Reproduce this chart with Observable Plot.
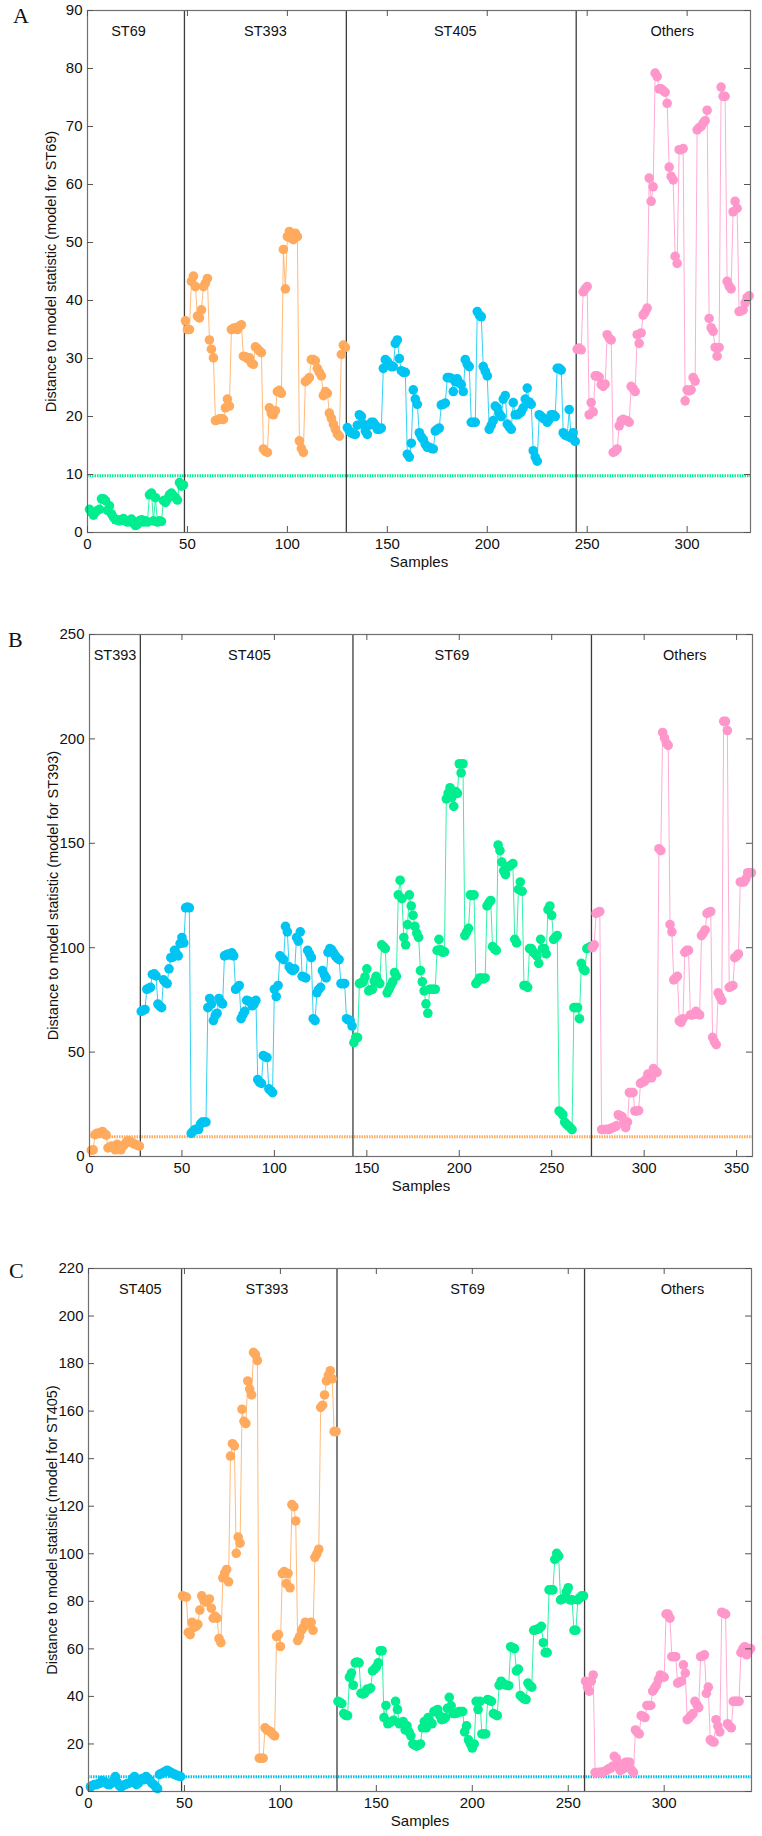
<!DOCTYPE html>
<html><head><meta charset="utf-8">
<script src="https://cdn.jsdelivr.net/npm/d3@7"></script>
<script src="https://cdn.jsdelivr.net/npm/@observablehq/plot@0.6"></script>
<style>
body{margin:0;background:#fff;font-family:"Liberation Sans",Arial,sans-serif;}
#wrap{position:relative;width:762px;height:1836px;overflow:hidden;}
.panel{position:absolute;left:0;}
.letter{position:absolute;font-family:"Liberation Serif","Times New Roman",serif;font-size:22px;line-height:22px;color:#111;}
</style></head><body><div id="wrap"></div>
<script>
// ---------- Panel A : model for ST69 ----------
const aGroups = ["ST69","ST393","ST405","Others"];
const aST69 = [4.0,3.5,3.0,3.5,3.8,4.0,5.8,5.8,5.5,3.8,
 4.6,3.2,2.6,2.2,2.2,2.0,2.2,2.4,2.0,1.8,
 2.0,2.3,1.6,1.2,1.4,2.0,2.2,1.8,2.0,1.8,
 6.5,6.8,2.0,6.0,1.8,2.0,1.9,5.5,5.2,5.8,
 6.5,6.8,6.3,6.0,5.6,8.6,8.0,8.2];
const aST393 = [36.5,35.0,35.0,43.3,44.2,42.4,37.3,37.0,38.4,42.4,
 43.0,43.8,33.2,31.6,30.1,19.3,19.4,19.6,19.6,19.5,
 21.5,23.0,21.8,35.0,35.2,35.3,35.0,35.6,35.8,30.4,
 30.3,30.0,30.1,29.2,29.0,32.0,31.7,31.3,31.0,14.4,
 14.0,13.8,21.5,20.5,20.3,21.0,24.3,24.5,24.0,48.8,
 42.0,51.0,51.9,50.7,50.5,51.6,51.0,15.8,14.5,13.8,
 26.0,26.3,26.7,29.8,29.8,29.6,28.3,27.6,27.0,23.6,
 24.3,24.0,20.6,19.7,18.7,17.8,17.0,16.6,30.7,32.3,
 31.9];
const aST405 = [18.1,17.5,17.2,17.0,16.9,18.5,20.3,20.0,18.7,17.5,
 16.9,18.5,19.0,19.0,18.5,17.8,17.8,18.0,28.3,29.8,
 29.5,29.0,28.6,28.6,32.6,33.2,30.0,27.9,27.6,27.6,
 13.5,13.0,15.4,24.6,23.0,22.1,17.2,16.5,16.0,15.2,
 14.7,14.7,14.5,14.4,17.5,17.8,18.0,22.0,22.1,22.3,
 26.7,26.7,26.6,24.3,26.0,26.5,25.8,25.5,24.3,29.8,
 29.0,28.6,19.0,19.0,19.0,38.1,37.5,37.2,28.6,27.8,
 27.0,17.8,18.5,19.3,21.8,21.5,20.5,20.0,23.0,23.6,
 18.7,18.2,17.8,22.4,20.3,20.3,20.5,20.8,21.5,23.0,
 24.9,22.5,22.1,14.1,13.0,12.3,20.3,20.0,19.7,19.5,
 19.0,19.5,20.3,20.3,20.0,28.3,28.3,28.0,17.2,16.8,
 16.6,21.2,16.3,17.2,15.7];
const aOthers = [31.6,31.8,31.5,41.5,42.0,42.4,20.3,22.4,20.8,27.0,
 27.0,26.8,25.5,25.2,25.6,34.1,33.5,33.2,13.8,14.0,
 14.4,18.4,19.3,19.5,19.3,19.3,19.0,25.2,24.8,24.3,
 34.1,32.6,34.4,37.5,38.0,38.7,61.1,57.1,59.6,79.2,
 78.6,76.5,76.5,76.2,75.9,74.0,63.0,61.4,60.8,47.6,
 46.4,66.0,66.0,66.2,22.7,24.6,24.4,24.6,26.7,26.1,
 69.4,69.8,70.0,70.6,71.0,72.8,36.9,35.3,34.7,31.9,
 30.4,31.9,76.8,75.2,75.2,43.3,42.5,42.0,55.3,57.1,
 55.9,38.1,38.2,38.4,39.6,40.5,40.8];
const aThreshold = 9.8;
const aXMax = 331.7, aYMax = 90;
const aXTicks = [0,50,100,150,200,250,300];
const aYTicks = [0,10,20,30,40,50,60,70,80,90];
const aLabelX = [20.5, 89, 184, 292.5];
const aTitle = "Distance to model statistic (model for ST69)";

// ---------- Panel B : model for ST393 ----------
const bGroups = ["ST393","ST405","ST69","Others"];
const bST393 = [3.0,3.2,10.5,11.1,11.0,11.5,12.0,11.0,10.3,4.1,
 4.5,5.0,4.0,3.2,5.8,4.5,3.2,5.0,5.8,7.0,
 7.6,7.0,6.7,6.0,5.8,5.3,5.0];
const bST405 = [69.5,70.0,70.4,80.1,80.5,81.0,87.2,87.5,86.5,73.0,
 72.0,71.3,84.6,83.5,82.8,89.9,95.2,95.5,98.7,97.0,
 96.1,102.0,104.9,102.3,119.1,119.5,119.1,11.1,12.0,12.9,
 13.0,12.9,15.5,16.5,16.5,16.5,71.3,75.7,73.0,65.1,
 67.5,68.6,75.7,74.0,73.1,96.1,96.5,97.0,96.5,97.5,
 96.1,80.1,81.0,81.9,66.0,68.0,69.5,74.8,74.5,74.0,
 72.2,73.0,74.8,36.8,35.5,35.0,48.3,47.8,47.4,32.4,
 31.5,30.6,80.1,76.6,81.9,96.1,95.0,94.3,110.2,107.6,
 90.8,89.5,89.0,89.9,104.9,103.1,107.6,86.3,85.9,85.5,
 98.7,97.0,95.2,66.0,65.1,78.4,80.0,81.0,89.0,87.0,
 85.5,97.8,99.6,99.0,97.5,96.1,95.0,94.3,82.8,82.8,
 82.8,66.0,65.5,65.1,62.5];
const bST69 = [54.5,57.1,57.0,82.8,83.2,83.7,86.0,89.9,79.3,79.8,
 80.1,84.0,86.3,84.0,82.8,101.4,100.5,99.6,78.4,80.1,
 82.0,83.7,88.1,86.3,125.3,132.3,123.5,104.9,101.4,111.1,
 125.3,120.0,115.5,110.2,107.0,104.9,89.0,83.7,79.3,73.1,
 68.6,80.1,80.1,80.1,80.1,98.7,104.0,99.0,97.8,98.0,
 171.3,174.0,176.6,172.0,167.7,174.8,173.9,188.1,183.7,188.1,
 105.8,107.5,109.3,125.3,125.0,125.3,82.8,84.0,85.5,85.5,
 85.0,85.5,120.0,121.5,122.6,100.5,99.5,98.7,149.2,146.5,
 141.0,136.8,135.0,138.5,139.0,139.5,140.3,104.0,102.3,127.9,
 131.5,127.0,81.9,81.9,81.0,99.6,99.6,98.0,97.0,96.1,
 92.5,104.0,99.6,99.6,97.0,118.2,120.0,115.5,104.0,105.0,
 105.8,21.8,21.0,20.0,16.5,15.5,14.7,13.8,12.9,71.3,
 71.3,71.3,66.0,92.5,89.9,89.0,99.6,100.0,100.5];
const bOthers = [100.0,101.4,116.4,117.0,117.3,12.9,12.9,12.9,13.0,12.9,
 13.5,13.8,14.2,14.7,20.0,19.5,19.1,16.5,13.8,16.5,
 30.6,30.6,30.6,21.8,21.8,22.0,35.0,35.5,35.9,37.0,
 39.5,38.5,37.7,42.1,41.0,40.3,147.4,146.5,203.1,200.5,
 198.0,196.9,111.1,107.6,84.6,85.5,86.3,65.0,64.2,66.0,
 97.8,98.7,98.7,67.8,67.8,68.0,69.5,68.5,67.8,105.8,
 107.0,108.5,116.4,117.0,117.3,57.1,55.0,53.6,78.4,76.5,
 74.8,208.4,208.4,204.0,81.0,81.5,81.9,95.2,96.0,97.0,
 131.5,131.5,131.5,133.0,135.9,135.9,135.9];
const bThreshold = 9.4;
const bXMax = 358.6, bYMax = 250;
const bXTicks = [0,50,100,150,200,250,300,350];
const bYTicks = [0,50,100,150,200,250];
const bLabelX = [13.8, 86.5, 196, 322];
const bTitle = "Distance to model statistic (model for ST393)";

// ---------- Panel C : model for ST405 ----------
const cGroups = ["ST405","ST393","ST69","Others"];
const cST405 = [2.0,2.5,2.9,2.9,3.2,3.5,4.6,4.2,3.8,3.0,
 2.9,3.5,4.5,6.3,3.8,2.5,2.0,2.5,2.9,3.2,
 3.5,3.8,5.5,6.3,2.9,3.5,4.6,5.5,5.0,6.3,
 5.5,4.6,3.5,2.9,2.0,1.2,7.2,7.5,8.0,8.5,
 8.9,8.5,8.0,7.5,7.2,6.8,6.5,6.3];
const cST393 = [82.3,82.0,81.8,66.9,66.0,71.2,69.0,69.5,70.3,76.3,
 82.3,80.6,79.7,80.6,81.0,77.1,72.9,73.7,72.9,64.3,
 62.6,89.9,92.0,93.4,88.2,141.1,146.3,145.4,100.2,107.0,
 104.5,160.8,155.7,154.8,172.7,169.3,166.8,184.7,183.8,181.3,
 14.0,14.0,14.0,26.8,25.9,25.5,25.1,24.0,23.4,65.2,
 66.0,61.0,91.7,92.5,87.4,91.7,85.7,120.7,119.8,113.8,
 63.5,65.2,67.8,69.0,71.2,70.3,70.5,71.2,67.8,98.5,
 100.0,101.9,161.6,162.5,166.8,172.7,175.0,177.0,173.6,151.4,
 151.4];
const cST69 = [37.9,37.5,37.0,32.8,32.0,31.9,48.1,49.8,44.7,54.1,
 54.5,54.1,41.3,41.0,41.5,43.0,43.0,43.5,50.7,51.5,
 52.4,54.1,59.2,59.2,31.1,36.2,28.5,29.0,29.4,30.0,
 37.9,34.5,28.5,29.0,29.4,25.9,27.6,25.1,23.4,20.0,
 19.5,19.1,19.5,20.0,26.8,29.4,26.8,31.1,29.5,28.5,
 33.6,34.0,34.5,32.0,30.2,30.5,31.1,35.0,39.6,36.0,
 32.8,32.8,33.0,33.6,33.6,33.6,25.1,27.6,21.7,20.0,
 18.3,20.0,37.9,34.5,37.9,24.2,24.2,24.2,38.7,38.3,
 37.9,32.8,32.3,31.9,44.7,46.4,45.5,45.0,44.7,44.5,
 60.9,60.5,60.1,50.7,51.5,40.4,39.6,39.0,38.7,45.6,
 44.5,43.9,67.8,68.0,68.3,68.6,69.5,62.6,58.4,58.4,
 84.8,84.8,84.8,97.6,100.2,99.0,80.6,81.0,81.4,84.0,
 85.7,80.6,80.6,67.8,67.8,80.6,81.5,82.3,82.3];
const cOthers = [46.4,44.0,42.2,46.4,49.0,8.0,8.0,8.0,8.2,8.0,
 8.5,8.9,9.5,9.7,10.6,14.8,14.0,12.0,8.9,9.2,
 9.7,12.3,12.3,12.3,9.0,8.0,25.9,25.0,24.2,31.9,
 31.5,31.1,36.2,36.2,36.2,42.2,43.5,44.7,47.0,49.0,
 48.5,48.1,74.6,74.6,72.9,56.7,56.7,56.7,45.6,46.0,
 46.4,53.3,49.8,30.2,31.0,31.9,32.8,37.9,36.5,35.3,
 56.7,57.0,57.5,41.3,43.9,21.7,21.0,20.8,30.2,27.5,
 25.1,75.4,75.0,74.6,28.5,27.5,26.8,37.9,37.9,37.9,
 37.9,58.4,60.0,60.9,57.5,59.0,60.1];
const cThreshold = 6.2;
const cXMax = 345.5, cYMax = 220;
const cXTicks = [0,50,100,150,200,250,300];
const cYTicks = [0,20,40,60,80,100,120,140,160,180,200,220];
const cLabelX = [27, 93, 197.5, 309.5];
const cTitle = "Distance to model statistic (model for ST405)";

const xLabel = "Samples";

// ---------- drawing ----------
const COLORS = {ST69:"#00EE8F", ST393:"#FFAA5C", ST405:"#00C5F3", Others:"#FF97CB"};
const FONT = "'Liberation Sans', Arial, Helvetica, sans-serif";

function drawPanel(cfg) {
  const {groups, series, threshold, modelGroup, xMax, yMax, xTicks, yTicks, labelX, title,
         top, height, mt, mb, ml, mr, letter, letterTop, letterLeft} = cfg;
  const W = 762;
  const plotW = W - ml - mr, plotH = height - mt - mb;
  let s = 0;
  const rowsByGroup = series.map((vals, gi) => vals.map(v => ({s: ++s, v, g: groups[gi]})));
  const bounds = [];
  let acc = 0;
  series.slice(0, -1).forEach(vals => { acc += vals.length; bounds.push(acc + 0.5); });

  const marks = [
    Plot.ruleY([threshold], {stroke: COLORS[modelGroup], strokeWidth: 3, strokeDasharray: "1.5,1"}),
    Plot.ruleX(bounds, {stroke: "#3c3c3c", strokeWidth: 1.3})
  ];
  rowsByGroup.forEach((rows, gi) => {
    const col = COLORS[groups[gi]];
    marks.push(Plot.line(rows, {x: "s", y: "v", stroke: col, strokeWidth: 1, strokeOpacity: 0.8}));
    marks.push(Plot.dot(rows, {x: "s", y: "v", fill: col, r: 4.8}));
  });
  marks.push(
    Plot.frame({stroke: "#707070", strokeWidth: 1.2}),
    Plot.tickY(yTicks, {y: d => d, insetRight: plotW - 6, stroke: "#555"}),
    Plot.tickY(yTicks, {y: d => d, insetLeft: plotW - 6, stroke: "#555"}),
    Plot.tickX(xTicks, {x: d => d, insetTop: plotH - 6, stroke: "#555"}),
    Plot.tickX(xTicks, {x: d => d, insetBottom: plotH - 6, stroke: "#555"}),
    Plot.axisX(xTicks, {anchor: "bottom", tickSize: 0, tickPadding: 6, fontSize: 15, label: null}),
    Plot.axisY(yTicks, {anchor: "left", tickSize: 0, tickPadding: 5, fontSize: 15, label: null}),
    Plot.text(groups, {x: (d, i) => labelX[i], text: d => d, frameAnchor: "top", lineAnchor: "middle", dy: 21, fontSize: 14.5}),
    Plot.text([title], {text: d => d, frameAnchor: "left", textAnchor: "middle", lineAnchor: "middle", rotate: -90, dx: -36, fontSize: 14.5}),
    Plot.text([xLabel], {text: d => d, frameAnchor: "bottom", textAnchor: "middle", lineAnchor: "middle", dy: 30, fontSize: 15})
  );

  const svg = Plot.plot({
    width: W, height, marginTop: mt, marginBottom: mb, marginLeft: ml, marginRight: mr,
    x: {domain: [0, xMax]}, y: {domain: [0, yMax]},
    style: {fontFamily: FONT, fontSize: "15px", color: "#111", background: "transparent"},
    marks
  });
  const div = document.createElement("div");
  div.className = "panel";
  div.style.top = top + "px";
  div.appendChild(svg);
  document.getElementById("wrap").appendChild(div);

  const L = document.createElement("div");
  L.className = "letter";
  L.textContent = letter;
  L.style.top = letterTop + "px";
  L.style.left = letterLeft + "px";
  document.getElementById("wrap").appendChild(L);
}

drawPanel({groups: aGroups, series: [aST69, aST393, aST405, aOthers], threshold: aThreshold, modelGroup: "ST69",
  xMax: aXMax, yMax: aYMax, xTicks: aXTicks, yTicks: aYTicks, labelX: aLabelX, title: aTitle,
  top: 0, height: 600, mt: 10, mb: 68, ml: 87, mr: 12, letter: "A", letterTop: 5, letterLeft: 13});
drawPanel({groups: bGroups, series: [bST393, bST405, bST69, bOthers], threshold: bThreshold, modelGroup: "ST393",
  xMax: bXMax, yMax: bYMax, xTicks: bXTicks, yTicks: bYTicks, labelX: bLabelX, title: bTitle,
  top: 600, height: 624, mt: 34, mb: 68, ml: 89, mr: 10, letter: "B", letterTop: 629, letterLeft: 8});
drawPanel({groups: cGroups, series: [cST405, cST393, cST69, cOthers], threshold: cThreshold, modelGroup: "ST405",
  xMax: cXMax, yMax: cYMax, xTicks: cXTicks, yTicks: cYTicks, labelX: cLabelX, title: cTitle,
  top: 1224, height: 612, mt: 44, mb: 45, ml: 88, mr: 11, letter: "C", letterTop: 1260, letterLeft: 9});
</script>
</body></html>
